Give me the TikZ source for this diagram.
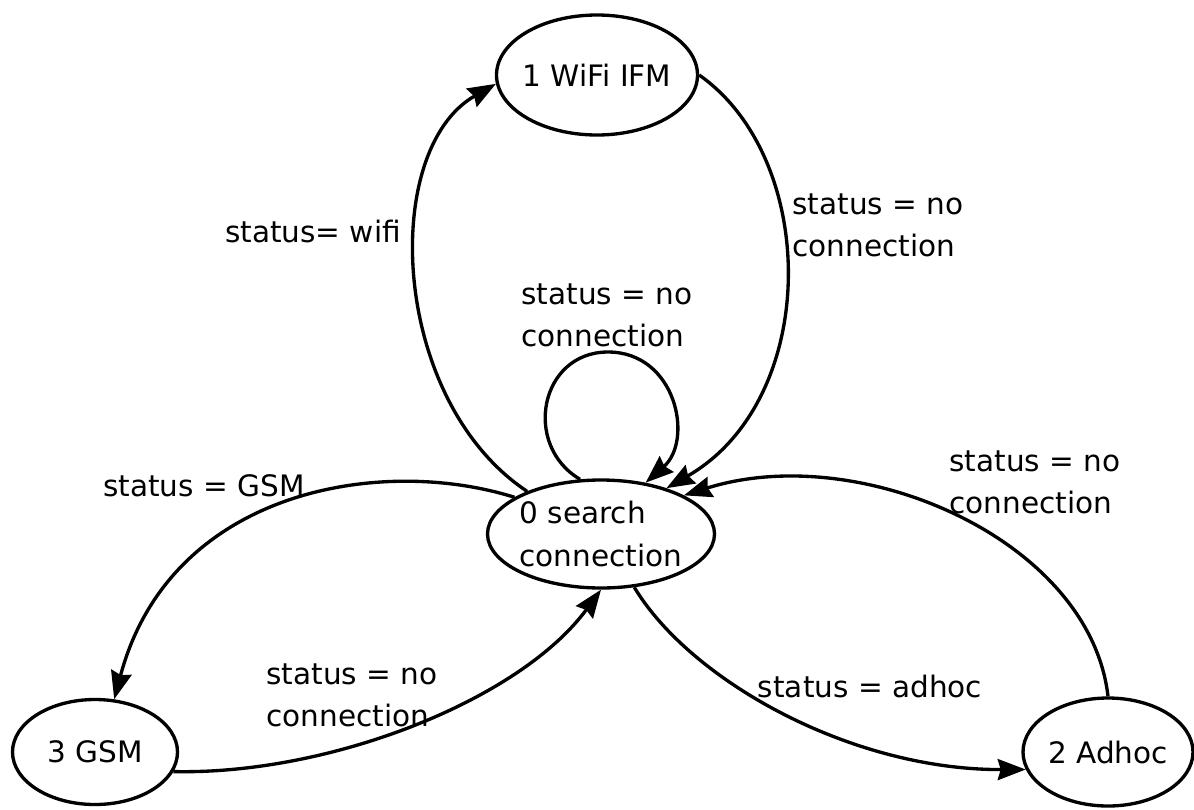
\documentclass[tikz,border=0pt]{standalone}
\usepackage{fontspec}
\setmainfont{DejaVu Sans}
\usetikzlibrary{shapes.geometric,arrows.meta}
\tikzset{
  state/.style={draw, ellipse, line width=1.9pt, inner ysep=0pt, inner xsep=-3pt},
  cond/.style={align=left, inner sep=0pt},
  trans/.style={line width=1.9pt, -{Stealth[length=5.6mm,width=4.2mm,inset=0.6mm]}}
}
\begin{document}
\begin{tikzpicture}[x=0.2mm,y=-0.2mm,font=\fontsize{16.8}{24}\selectfont]
\useasboundingbox (0,0) rectangle (1194,809);
\node [state,minimum width=40.2mm,minimum height=24mm] (wifi) at (597,75) {1 WiFi IFM};
\node [state,minimum width=45.4mm,minimum height=21.6mm,align=left] (search) at (601,534) {0 search\\connection};
\node [state,minimum width=33mm,minimum height=21mm] (gsm) at (95,752) {3 GSM};
\node [state,minimum width=34mm,minimum height=21.6mm] (adhoc) at (1108,752) {2 Adhoc};

\node [cond] (lwifi) at (313,231) {status= wifi};
\node [cond] (lwifiback) at (878,225) {status = no\\connection};
\node [cond] (lloop) at (607,315) {status = no\\connection};
\node [cond] (lgsm) at (204,486) {status = GSM};
\node [cond] (ladhocback) at (1035,482) {status = no\\connection};
\node [cond] (lgsmback) at (352,695) {status = no\\connection};
\node [cond] (ladhoc) at (870,686) {status = adhoc};

\draw [trans] (search.150) .. controls (390,400) and (380,150) .. (wifi.185);
\draw [trans] (wifi.east) .. controls (820,160) and (820,400) .. (search.35);
\draw [trans] (search.111) .. controls (522,445) and (540,352) .. (608,352)
  .. controls (676,352) and (694,440) .. (search.49);
\draw [trans] (search.157) .. controls (380,455) and (170,490) .. (gsm.70);
\draw [trans] (gsm.-14) .. controls (330,775) and (520,700) .. (search.south);
\draw [trans] (search.-58) .. controls (690,680) and (850,770) .. (adhoc.192);
\draw [trans] (adhoc.north) .. controls (1090,540) and (860,440) .. (search.25);
\end{tikzpicture}
\end{document}
